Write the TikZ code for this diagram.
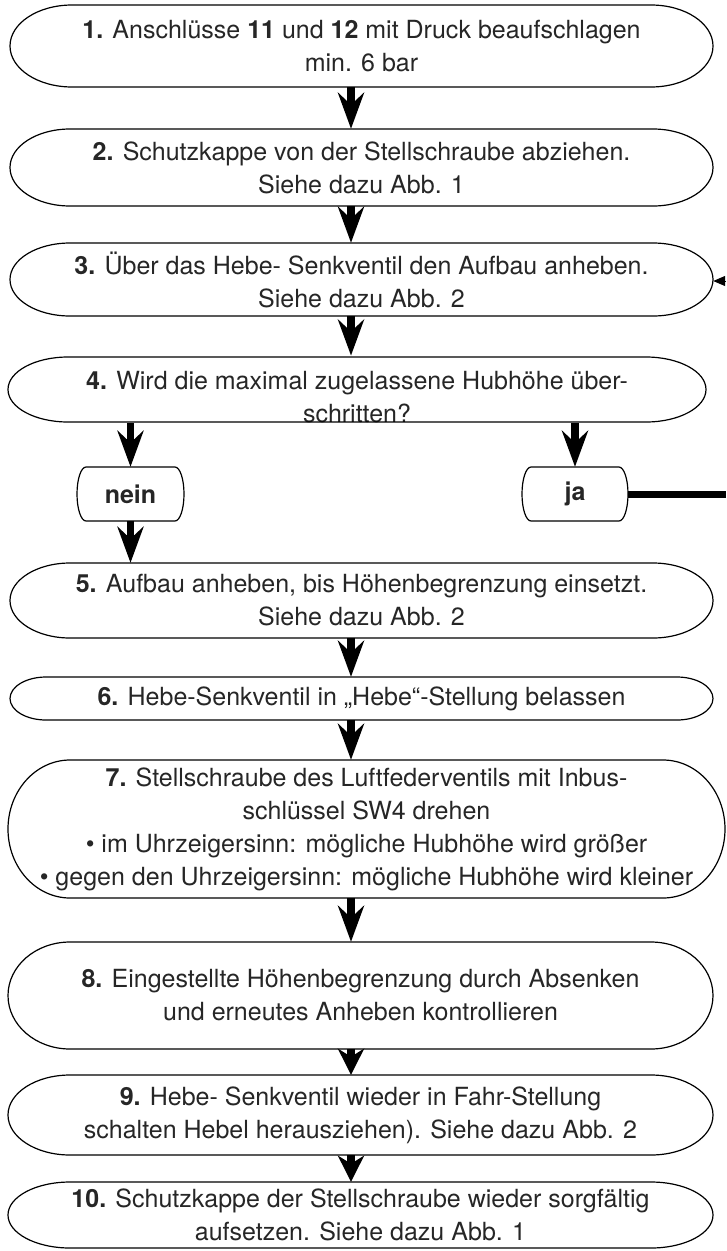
\documentclass[tikz,border=0pt]{standalone}
\usepackage{fontspec}
\setmainfont{TeX Gyre Heros}
\usetikzlibrary{arrows.meta}
\tikzset{
  x=1pt, y=1pt,
  boxtext/.style={inner sep=0pt, align=center, font=\fontsize{25}{33}\selectfont, text=black!85},
  outline/.style={draw=black, line width=1.2pt},
  flowarrow/.style={line width=7.5pt, -{Stealth[length=36pt,width=26pt,inset=12pt]}},
  shortarrow/.style={line width=7.5pt, -{Stealth[length=26pt,width=26pt,inset=8pt]}},
  jaline/.style={line width=7pt},
  backarrow/.style={line width=1pt, -{Triangle[length=12pt,width=10pt]}},
}
% name, left, right, top, bottom, cap, text
\newcommand\capbox[7]{%
  \node[boxtext, minimum width={(#3-#2)*1pt}, minimum height={(#5-#4)*1pt}] (#1) at ({(#2+#3)/2},{-(#4+#5)/2}) {#7};
  \draw[outline] ({#2+#6},-#4) -- ({#3-#6},-#4)
    arc[start angle=90,end angle=-90,x radius=#6pt,y radius={(#5-#4)/2*1pt}]
    -- ({#2+#6},-#5)
    arc[start angle=270,end angle=90,x radius=#6pt,y radius={(#5-#4)/2*1pt}] -- cycle;
}
\begin{document}
\begin{tikzpicture}
\useasboundingbox (0,0) rectangle (726,-1251);
\coordinate (ax) at (351,0);
\coordinate (edgeR) at (726,0);
\coordinate (fb) at (726,-281);

\capbox{b1}{10}{713}{5}{87}{62}{\textbf{1.} Anschlüsse \textbf{11} und \textbf{12} mit Druck beaufschlagen\\ min. 6 bar}
\capbox{b2}{10}{713}{129}{206}{60}{\textbf{2.} Schutzkappe von der Stellschraube abziehen.\\ Siehe dazu Abb. 1}
\capbox{b3}{10}{713}{243}{316}{60}{\textbf{3.} Über das Hebe- Senkventil den Aufbau anheben.\\ Siehe dazu Abb. 2}
\capbox{b4}{8}{706}{357}{422}{60}{\rule{0pt}{34pt}\textbf{4.} Wird die maximal zugelassene Hubhöhe über-\\schritten?}
\capbox{nein}{77}{184}{467}{521}{9}{\textbf{nein}}
\capbox{ja}{522}{628}{467}{521}{9}{\textbf{ja}}
\capbox{b5}{10}{713}{563}{638}{60}{\textbf{5.} Aufbau anheben, bis Höhenbegrenzung einsetzt.\\ Siehe dazu Abb. 2}
\capbox{b6}{10}{713}{677}{720}{36}{\textbf{6.} Hebe-Senkventil in „Hebe“-Stellung belassen}
\capbox{b7}{8}{725}{760}{898}{62}{\textbf{7.} Stellschraube des Luftfederventils mit Inbus-\\ schlüssel SW4 drehen\\ \textbullet{} im Uhrzeigersinn: mögliche Hubhöhe wird größer\\ \textbullet{} gegen den Uhrzeigersinn: mögliche Hubhöhe wird kleiner}
\capbox{b8}{8}{713}{942}{1049}{62}{\textbf{8.} Eingestellte Höhenbegrenzung durch Absenken\\ und erneutes Anheben kontrollieren}
\capbox{b9}{8}{713}{1075}{1155}{62}{\textbf{9.} Hebe- Senkventil wieder in Fahr-Stellung\\ schalten Hebel herausziehen). Siehe dazu Abb. 2}
\capbox{b10}{8}{713}{1182}{1248}{62}{\textbf{10.} Schutzkappe der Stellschraube wieder sorgfältig\\ aufsetzen. Siehe dazu Abb. 1}

\draw[flowarrow] (b1.south -| ax) -- (b2.north -| ax);
\draw[flowarrow] (b2.south -| ax) -- (b3.north -| ax);
\draw[flowarrow] (b3.south -| ax) -- (b4.north -| ax);
\draw[flowarrow] (b4.south -| nein) -- (nein.north);
\draw[flowarrow] (b4.south -| ja) -- (ja.north);
\draw[flowarrow] (nein.south) -- (b5.north -| nein);
\draw[flowarrow] (b5.south -| ax) -- (b6.north -| ax);
\draw[flowarrow] (b6.south -| ax) -- (b7.north -| ax);
\draw[flowarrow] (b7.south -| ax) -- (b8.north -| ax);
\draw[shortarrow] (b8.south -| ax) -- (b9.north -| ax);
\draw[shortarrow] (b9.south -| ax) -- (b10.north -| ax);
\draw[jaline] (ja.east) -- (ja.east -| edgeR);
\draw[backarrow] (fb) -- (b3.east |- fb);
\end{tikzpicture}
\end{document}
